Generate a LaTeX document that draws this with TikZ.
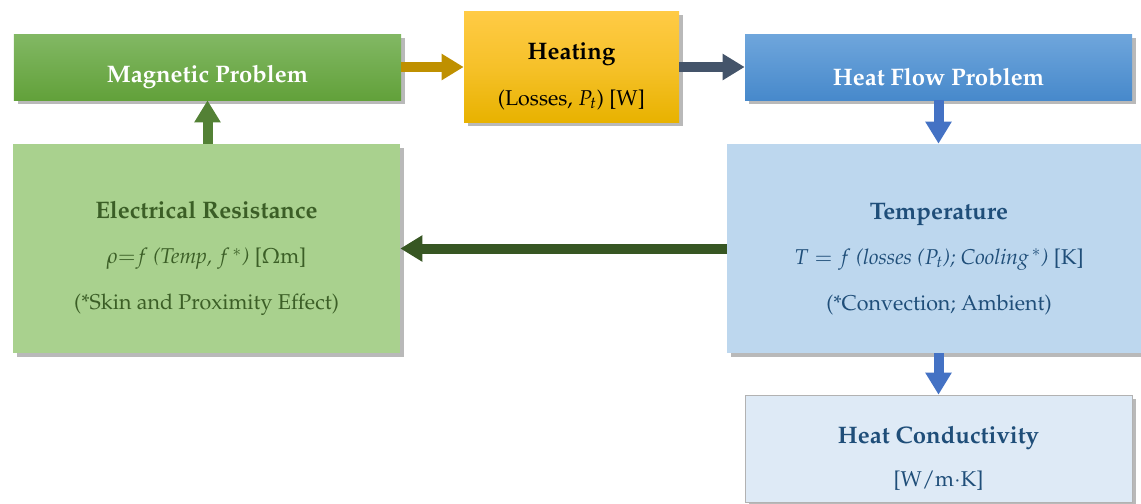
\documentclass[tikz,border=0pt]{standalone}
\usepackage[T1]{fontenc}
\usepackage{mathpazo}
\usetikzlibrary{arrows.meta,shadows}
\definecolor{magtop}{HTML}{82B864}
\definecolor{magbot}{HTML}{62A13A}
\definecolor{heattop}{HTML}{FFCB45}
\definecolor{heatbot}{HTML}{E8B200}
\definecolor{flowtop}{HTML}{6FA6DC}
\definecolor{flowbot}{HTML}{4789CB}
\definecolor{resfill}{HTML}{A9D18E}
\definecolor{tempfill}{HTML}{BDD7EE}
\definecolor{condfill}{HTML}{DEEAF6}
\definecolor{restext}{HTML}{3B5E26}
\definecolor{temptext}{HTML}{1F4E79}
\definecolor{goldline}{HTML}{BF9000}
\definecolor{slateline}{HTML}{44546A}
\definecolor{blueline}{HTML}{4472C4}
\definecolor{dkgreenline}{HTML}{375623}
\definecolor{greenline}{HTML}{538135}
\newcommand\hd[1]{{\fontsize{13.6}{26}\selectfont\bfseries\rule{0pt}{21pt}#1}}

\begin{document}
\begin{tikzpicture}[
  box/.style={minimum width=7.74cm,minimum height=1.32cm,inner sep=0pt,align=center,
    font=\fontsize{12.2}{26}\selectfont,
    drop shadow={shadow xshift=2pt,shadow yshift=-2.5pt,opacity=.5,fill=black!55}},
  link/.style={line width=0.2cm,-{Triangle[width=0.5cm,length=0.44cm]}}
]
\useasboundingbox (0,0) rectangle (22.82,-10.06);
% top row
\node[box,top color=magtop,bottom color=magbot,text=white] (mag) at (4.15,-1.34)
  {\hd{Magnetic Problem}};
\node[box,minimum width=4.30cm,minimum height=2.22cm,top color=heattop,bottom color=heatbot,middle color=heattop!60!heatbot] (heat) at (11.43,-1.33)
  {\hd{Heating}\\(Losses, $P_t$) [W]};
\node[box,top color=flowtop,bottom color=flowbot,text=white] (flow) at (18.77,-1.34)
  {\hd{Heat Flow Problem}};
% middle row
\node[box,minimum height=4.18cm,fill=resfill,text=restext] (elres) at (4.13,-4.97)
  {\hd{Electrical Resistance}\\
   $\rho{=}f$ \textit{(Temp,} $f^{\,*}$\textit{)} [$\Omega$m]\\
   (*Skin and Proximity Effect)};
\node[box,minimum width=8.48cm,minimum height=4.18cm,fill=tempfill,text=temptext] (temp) at (18.78,-4.97)
  {\hd{Temperature}\\
   $T = f$ \textit{(losses (}$P_t$\textit{); Cooling}$^{\,*}$\textit{)} [K]\\
   (*Convection; Ambient)};
% bottom
\node[box,minimum height=2.14cm,fill=condfill,draw=black!30,text=temptext] (cond) at (18.77,-8.97)
  {\hd{Heat Conductivity}\\[-2pt][W/m$\cdot$K]};
% connectors
\draw[link,goldline] (mag.east) -- (heat.west |- mag.east);
\draw[link,slateline] (heat.east |- flow.west) -- (flow.west);
\draw[link,blueline] (flow.south) -- (flow.south |- temp.north);
\draw[link,blueline] (temp.south -| cond.north) -- (cond.north);
\draw[link,dkgreenline] (temp.west) -- (elres.east |- temp.west);
\draw[link,greenline] (elres.north -| mag.south) -- (mag.south);
\end{tikzpicture}
\end{document}
